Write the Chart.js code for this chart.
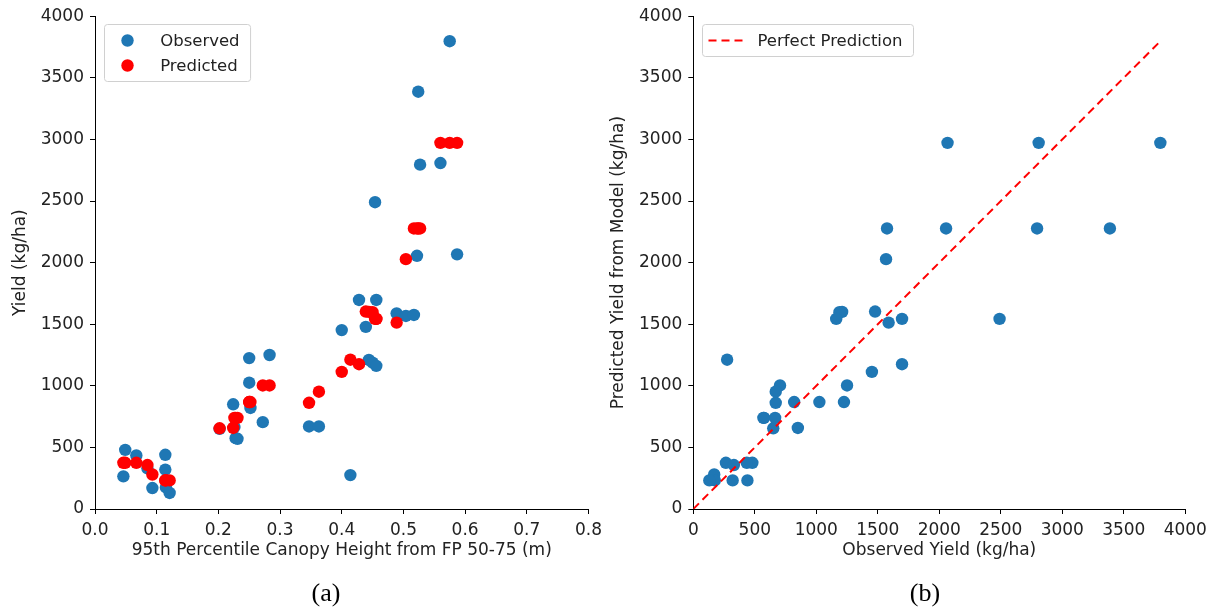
<!DOCTYPE html>
<html>
<head>
<meta charset="utf-8">
<title>Canopy height vs yield</title>
<script src="https://cdn.jsdelivr.net/npm/chart.js@4.4.1/dist/chart.umd.min.js"></script>
<style>
  body { margin: 0; width: 1217px; height: 613px; background: #fff; position: relative; overflow: hidden; }
  .wrap { position: absolute; top: 0; height: 613px; }
  .panel { position: absolute; top: 578px; width: 60px; margin-left: -30px; text-align: center;
           font-family: "Liberation Serif", serif; font-size: 26px; color: #000; }
</style>
</head>
<body>
<div class="wrap" style="left:0; width:608px;"><canvas id="chartA"></canvas></div>
<div class="wrap" style="left:608px; width:609px;"><canvas id="chartB"></canvas></div>
<div class="panel" style="left:326px;">(a)</div>
<div class="panel" style="left:925px;">(b)</div>

<script>
// one entry per field plot
const canopyHeight = [0.046, 0.049, 0.067, 0.085, 0.093, 0.114, 0.114, 0.115, 0.121,
                      0.202, 0.224, 0.226, 0.228, 0.231, 0.250, 0.250, 0.252, 0.272, 0.283,
                      0.347, 0.363, 0.400, 0.414, 0.428, 0.439, 0.444, 0.450, 0.456, 0.456,
                      0.454, 0.489, 0.504, 0.517, 0.522, 0.527, 0.524, 0.560, 0.575, 0.587]
const observedYield = [265, 480, 435, 330, 170, 440, 320, 175, 130,
                       650, 850, 665, 575, 570, 1225, 1025, 820, 705, 1250,
                       670, 670, 1452, 275, 1697, 1478, 1210, 1188, 1162, 1697,
                       2490, 1588, 1567, 1575, 2055, 2795, 3387, 2808, 3797, 2067]
const predictedYield = [375, 375, 375, 357, 280, 232, 232, 232, 232,
                        655, 658, 740, 740, 740, 868, 868, 868, 1003, 1003,
                        862, 952, 1113, 1212, 1175, 1603, 1600, 1598, 1543, 1543,
                        1543, 1513, 2028, 2277, 2277, 2277, 2277, 2972, 2972, 2972]

const heightTicks = [0, 0.1, 0.2, 0.3, 0.4, 0.5, 0.6, 0.7, 0.8]
const yieldTicks = [0, 500, 1000, 1500, 2000, 2500, 3000, 3500, 4000]

const BLUE = '#1f77b4'
const RED = '#ff0000'

Chart.defaults.font.family = "DejaVu Sans"
Chart.defaults.font.size = 17
Chart.defaults.color = '#222'

// legend drawn inside the plot, upper left, like a matplotlib legend box
const insetLegend = {
  id: 'insetLegend',
  afterDatasetsDraw(chart) {
    const {ctx, chartArea} = chart
    const sets = chart.data.datasets
    ctx.save()
    ctx.font = '16.5px "DejaVu Sans"'
    let textW = 0
    sets.forEach(ds => { textW = Math.max(textW, ctx.measureText(ds.label).width) })
    const isLine = sets.some(ds => ds.type === 'line')
    const x0 = Math.round(chartArea.left + (isLine ? 8.4 : 9.3)) + 0.5
    const y0 = Math.round(chartArea.top + 7.6) + 0.5
    const textX = isLine ? 55 : 55.7
    const w = textX + textW + 11
    const h = sets.length * 25 + 7
    ctx.beginPath()
    ctx.roundRect(x0, y0, w, h, 3)
    ctx.fillStyle = 'rgba(255,255,255,0.8)'
    ctx.fill()
    ctx.strokeStyle = '#d0d0d0'
    ctx.lineWidth = 1
    ctx.stroke()
    sets.forEach((ds, i) => {
      const cy = y0 + 16 + i * 25
      if (ds.type === 'line') {
        ctx.beginPath()
        ctx.setLineDash(ds.borderDash)
        ctx.strokeStyle = ds.borderColor
        ctx.lineWidth = ds.borderWidth
        ctx.moveTo(x0 + 6, cy)
        ctx.lineTo(x0 + 40, cy)
        ctx.stroke()
        ctx.setLineDash([])
      } else {
        ctx.beginPath()
        ctx.arc(x0 + 23, cy, ds.pointRadius, 0, Math.PI * 2)
        ctx.fillStyle = ds.backgroundColor
        ctx.fill()
      }
      ctx.fillStyle = '#222'
      ctx.textBaseline = 'middle'
      ctx.textAlign = 'left'
      ctx.fillText(ds.label, x0 + textX, cy + 1)
    })
    ctx.restore()
  }
}

const axis = (min, max, ticks, title, fmt, side) => ({
  type: 'linear',
  min: min,
  max: max,
  afterBuildTicks: (scale) => { scale.ticks = ticks.map(v => ({value: v})) },
  ticks: { callback: fmt, autoSkip: false, maxRotation: 0, padding: 6, color: '#222' },
  grid: { drawOnChartArea: false, drawTicks: true, tickLength: 5, color: '#000' },
  border: { display: true, color: '#000', width: 1 },
  title: { display: true, text: title, color: '#222', font: { size: 17 },
           padding: side === 'x' ? { bottom: 52 } : { top: 10 } }
})

const toPoints = (xs, ys) => xs.map((x, i) => ({x: x, y: ys[i]}))

// (a) yield against canopy height
const chartA = new Chart(document.getElementById('chartA'), {
  type: 'scatter',
  data: {
    datasets: [
      { label: 'Observed', data: toPoints(canopyHeight, observedYield), backgroundColor: BLUE,
        borderWidth: 0, pointRadius: 6.2, pointHoverRadius: 6.2, order: 2 },
      { label: 'Predicted', data: toPoints(canopyHeight, predictedYield), backgroundColor: RED,
        borderWidth: 0, pointRadius: 6.2, pointHoverRadius: 6.2, order: 1 }
    ]
  },
  options: {
    responsive: true,
    maintainAspectRatio: false,
    animation: false,
    layout: { padding: { left: 0, top: 15.7, right: 19.4, bottom: 0 } },
    plugins: { legend: { display: false }, tooltip: { enabled: false } },
    scales: {
      x: Object.assign(axis(0, 0.8, heightTicks, '95th Percentile Canopy Height from FP 50-75 (m)', v => v.toFixed(1), 'x'),
        { afterFit: s => { s.height = 104 } }),
      y: Object.assign(axis(0, 4000, yieldTicks, 'Yield (kg/ha)', v => v, 'y'),
        { afterFit: s => { s.width = 95 } })
    }
  },
  plugins: [insetLegend]
})

// (b) predicted against observed, with the 1:1 line
const maxObserved = Math.max(...observedYield)
const yAxisB = axis(0, 4000, yieldTicks, 'Predicted Yield from Model (kg/ha)', v => v, 'y')
yAxisB.title.padding = { top: 0 }

const chartB = new Chart(document.getElementById('chartB'), {
  type: 'scatter',
  data: {
    datasets: [
      { type: 'line', label: 'Perfect Prediction', data: [{x: 0, y: 0}, {x: maxObserved, y: maxObserved}],
        borderColor: RED, borderWidth: 2, borderDash: [8, 5], pointRadius: 0, fill: false, order: 1 },
      { label: 'Yield', data: toPoints(observedYield, predictedYield), backgroundColor: BLUE,
        borderWidth: 0, pointRadius: 6.2, pointHoverRadius: 6.2, order: 2 }
    ]
  },
  options: {
    responsive: true,
    maintainAspectRatio: false,
    animation: false,
    layout: { padding: { left: 0, top: 15.7, right: 31.7, bottom: 0 } },
    plugins: { legend: { display: false }, tooltip: { enabled: false } },
    scales: {
      x: Object.assign(axis(0, 4000, yieldTicks, 'Observed Yield (kg/ha)', v => v, 'x'),
        { afterFit: s => { s.height = 104 } }),
      y: Object.assign(yAxisB, { afterFit: s => { s.width = 85.3 } })
    }
  },
  plugins: [{
    id: 'lineOnlyLegend',
    afterDatasetsDraw(chart) {
      // only the 1:1 line is listed in this panel's legend
      const all = chart.data.datasets
      chart.data.datasets = all.filter(ds => ds.type === 'line')
      insetLegend.afterDatasetsDraw(chart)
      chart.data.datasets = all
    }
  }]
})
</script>
</body>
</html>
